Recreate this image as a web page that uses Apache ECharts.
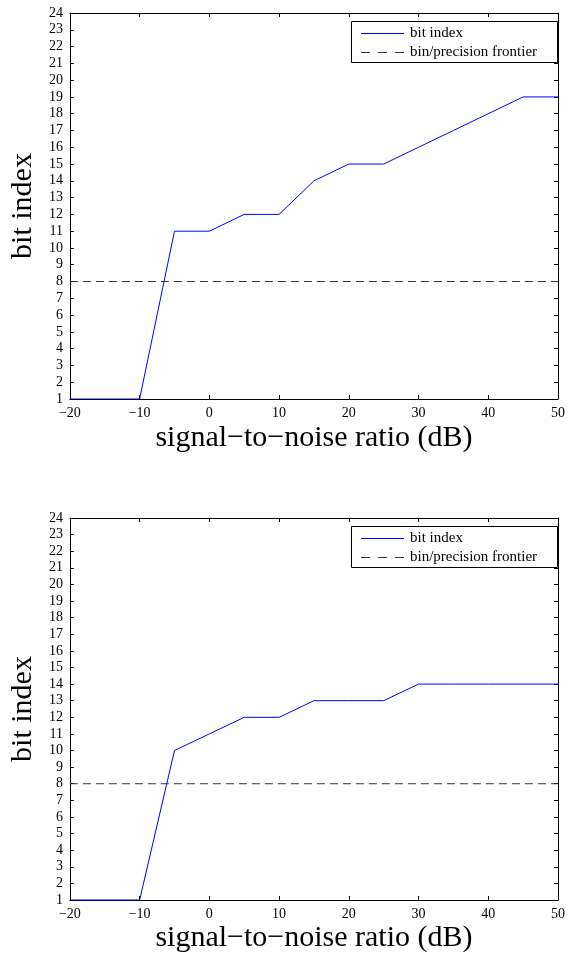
<!DOCTYPE html>
<html><head><meta charset="utf-8">
<script src="https://cdn.jsdelivr.net/npm/echarts@6/dist/echarts.min.js"></script>
<style>html,body{margin:0;padding:0;background:#fff}#c{width:572px;height:954px}</style>
</head><body><div id="c"></div>
<script>
const snr = [-20,-15,-10,-5,0,5,10,15,20,25,30,35,40,45,50];
const bitIndexTop = [1,1,1,11,11,12,12,14,15,15,16,17,18,19,19];
const bitIndexBottom = [1,1,1,10,11,12,12,13,13,13,14,14,14,14,14];
const frontierSnr = [-20,50];
const frontierValue = [8,8];
const xTicks = [-20,-10,0,10,20,30,40,50];
const yTickMin = 1, yTickMax = 24;
const names = ['bit index','bin/precision frontier'];
const xLabel = 'signal\u2212to\u2212noise ratio (dB)';
const yLabel = 'bit index';

const FONT = 'Liberation Serif';
const BLUE = '#0000ff', DASH = '#333';
const chart = echarts.init(document.getElementById('c'));
const grids = [{left:69,right:14,top:13,height:386},{left:69,right:14,top:518,height:385}];
const xNameGaps = [24,23];
const xAxes=[], yAxes=[], series=[], graphics=[];
const tickFmt = v => String(v).replace('-', '\u2212');
grids.forEach((g,i)=>{
  xAxes.push({gridIndex:i,type:'value',min:xTicks[0],max:xTicks[xTicks.length-1],interval:10,
    name:xLabel,nameLocation:'middle',nameGap:xNameGaps[i],
    nameTextStyle:{fontFamily:FONT,fontSize:30,color:'#000'},
    axisLine:{onZero:false,lineStyle:{color:'#000',width:1}},
    axisTick:{inside:true,length:4,lineStyle:{color:'#000'}},
    axisLabel:{fontFamily:FONT,fontSize:14,color:'#000',margin:7,formatter:tickFmt},
    splitLine:{show:false}});
  xAxes.push({gridIndex:i,type:'value',position:'top',min:xTicks[0],max:xTicks[xTicks.length-1],interval:10,
    axisLine:{onZero:false,lineStyle:{color:'#000',width:1}},
    axisTick:{inside:true,length:4,lineStyle:{color:'#000'}},
    axisLabel:{show:false},splitLine:{show:false}});
  yAxes.push({gridIndex:i,type:'value',min:yTickMin,max:yTickMax,interval:1,
    name:yLabel,nameLocation:'middle',nameGap:30,nameRotate:90,
    nameTextStyle:{fontFamily:FONT,fontSize:30,color:'#000'},
    axisLine:{onZero:false,lineStyle:{color:'#000',width:1}},
    axisTick:{inside:true,length:4,lineStyle:{color:'#000'}},
    axisLabel:{fontFamily:FONT,fontSize:14,color:'#000',margin:7},
    splitLine:{show:false}});
  yAxes.push({gridIndex:i,type:'value',position:'right',min:yTickMin,max:yTickMax,interval:1,
    axisLine:{onZero:false,lineStyle:{color:'#000',width:1}},
    axisTick:{inside:true,length:4,lineStyle:{color:'#000'}},
    axisLabel:{show:false},splitLine:{show:false}});
  const vals = i===0?bitIndexTop:bitIndexBottom;
  series.push({name:names[0],type:'line',xAxisIndex:2*i,yAxisIndex:2*i,symbol:'none',
    data:snr.map((x,k)=>[x,vals[k]]),lineStyle:{color:BLUE,width:1},itemStyle:{color:BLUE},animation:false});
  series.push({name:names[1],type:'line',xAxisIndex:2*i,yAxisIndex:2*i,symbol:'none',
    data:frontierSnr.map((x,k)=>[x,frontierValue[k]]),lineStyle:{color:DASH,width:1,type:[8,5]},itemStyle:{color:DASH},animation:false});
  // legend box drawn as graphic
  const o = g.top;
  graphics.push(
    {type:'rect',left:351,top:o+8,shape:{width:206,height:41},style:{fill:'#fff',stroke:'#000',lineWidth:1},z:100},
    {type:'line',shape:{x1:361,y1:o+20.5,x2:404,y2:o+20.5},style:{stroke:BLUE,lineWidth:1},z:101},
    {type:'line',shape:{x1:361,y1:o+39.5,x2:404,y2:o+39.5},style:{stroke:DASH,lineWidth:1,lineDash:[9,8]},z:101},
    {type:'text',x:410,y:o+20,style:{text:names[0],font:'15px "'+FONT+'"',fill:'#000',verticalAlign:'middle'},z:101},
    {type:'text',x:410,y:o+39,style:{text:names[1],font:'15px "'+FONT+'"',fill:'#000',verticalAlign:'middle'},z:101}
  );
});
chart.setOption({animation:false,grid:grids,xAxis:xAxes,yAxis:yAxes,series:series,graphic:graphics});
</script></body></html>
